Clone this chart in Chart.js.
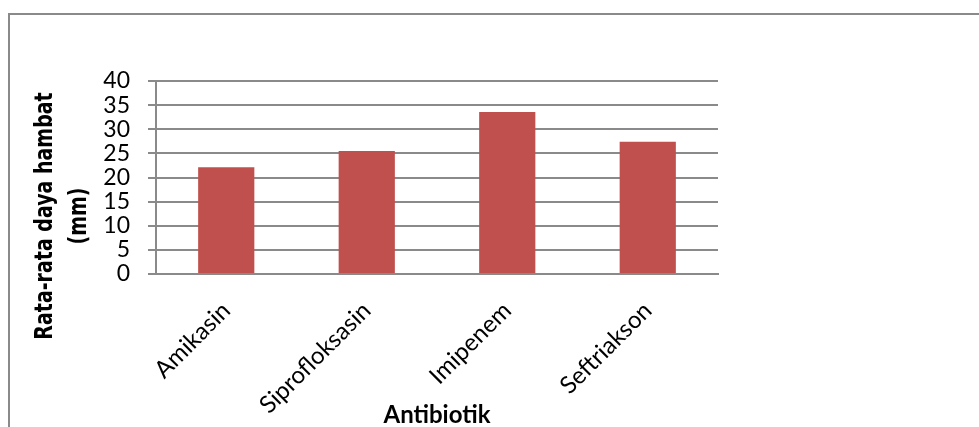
<!DOCTYPE html>
<html>
<head>
<meta charset="utf-8">
<script src="https://cdn.jsdelivr.net/npm/chart.js@4"></script>
<style>
  html, body { margin: 0; padding: 0; background: #fff; overflow: hidden; }
  #wrap { position: relative; width: 979px; height: 427px; }
  #frame { position: absolute; left: 8px; top: 13px; width: 1000px; height: 500px;
           border: 2px solid #8a8a8a; box-sizing: border-box; }
  canvas { position: absolute; left: 0; top: 0; }
</style>
</head>
<body>
<div id="wrap">
  <div id="frame"></div>
  <canvas id="c" width="979" height="427"></canvas>
</div>
<script>
// Mean inhibition zone per antibiotic (mm)
const categories = ['Amikasin', 'Siprofloksasin', 'Imipenem', 'Seftriakson'];
const meanZone = [22.1, 25.5, 33.6, 27.4];
const yTicks = [0, 5, 10, 15, 20, 25, 30, 35, 40];
const yTitleLines = ['Rata-rata daya hambat', '(mm)'];
const xTitle = 'Antibiotik';

const gridGray = '#8a8a8a';
const barRed = '#c0504d';

// Two-line rotated y-axis title (wide bold face)
const yTitlePlugin = {
  id: 'yTitle',
  afterDraw(chart) {
    const ctx = chart.ctx;
    const baselines = [52, 86];
    ctx.save();
    ctx.fillStyle = '#000';
    ctx.font = 'bold 19px "DejaVu Sans", Verdana, sans-serif';
    ctx.textAlign = 'center';
    ctx.textBaseline = 'alphabetic';
    yTitleLines.forEach((line, i) => {
      ctx.save();
      ctx.translate(baselines[i], 216);
      ctx.rotate(-Math.PI / 2);
      ctx.scale(1, 1.3);
      ctx.fillText(line, 0, 0);
      ctx.restore();
    });
    ctx.restore();
  }
};

new Chart(document.getElementById('c'), {
  type: 'bar',
  data: {
    labels: categories,
    datasets: [{
      data: meanZone,
      backgroundColor: barRed,
      borderWidth: 0,
      barPercentage: 1,
      categoryPercentage: 0.4
    }]
  },
  options: {
    responsive: false,
    animation: false,
    layout: { padding: { top: 81, right: 261, left: 0, bottom: 0 } },
    plugins: { legend: { display: false }, tooltip: { enabled: false } },
    scales: {
      x: {
        grid: { display: false },
        border: { display: true, color: gridGray, width: 2 },
        ticks: {
          autoSkip: false,
          minRotation: 45,
          maxRotation: 45,
          padding: 16,
          color: '#000',
          font: { family: 'Lato', size: 24, lineHeight: 1 }
        },
        title: {
          display: true,
          text: xTitle,
          color: '#000',
          font: { family: 'Lato', size: 24, weight: 'bold', lineHeight: 1 },
          padding: { top: 0, bottom: 0 }
        },
        afterFit(scale) { scale.height = 153; }
      },
      y: {
        min: 0,
        max: 40,
        afterBuildTicks(scale) { scale.ticks = yTicks.map(v => ({ value: v })); },
        grid: { color: gridGray, lineWidth: 2, tickLength: 8, drawTicks: true },
        border: { display: true, color: gridGray, width: 2 },
        ticks: {
          autoSkip: false,
          padding: 18,
          color: '#000',
          font: { family: 'Lato', size: 23, lineHeight: 1 }
        },
        afterFit(scale) { scale.width = 156; }
      }
    }
  },
  plugins: [yTitlePlugin]
});
</script>
</body>
</html>
